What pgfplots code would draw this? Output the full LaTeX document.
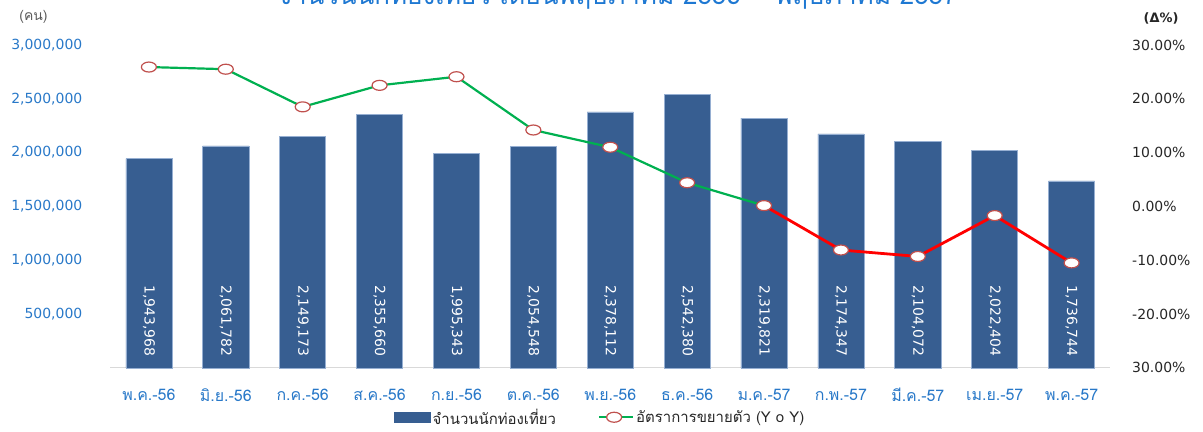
\documentclass[border=0pt]{standalone}
\usepackage{pgfplots}
\pgfplotsset{compat=1.18}
\usepackage{pgfplotstable}
\usepackage{fontspec}
\setmainfont{DejaVu Sans}
\newfontfamily\thaifont[Script=Thai]{Loma}
\usetikzlibrary{calc}
\definecolor{barblue}{RGB}{55,94,145}
\definecolor{baredge}{RGB}{150,175,210}
\definecolor{tickblue}{RGB}{40,120,200}
\definecolor{lgreen}{RGB}{0,176,80}
\definecolor{lred}{RGB}{255,0,0}
\definecolor{mkred}{RGB}{192,80,77}
\definecolor{titleblue}{RGB}{30,120,210}

\pgfplotstableread{
x v
0 1943968
1 2061782
2 2149173
3 2355660
4 1995343
5 2054548
6 2378112
7 2542380
8 2319821
9 2174347
10 2104072
11 2022404
12 1736744
}\bars

\pgfplotstableread{
x g
0 25.9
1 25.5
2 18.5
3 22.5
4 24.1
5 14.2
6 11.0
7 4.4
8 0.15
9 -8.1
10 -9.3
11 -1.7
12 -10.5
}\growth

\pgfplotstableread{
x g
0 25.9
1 25.5
2 18.5
3 22.5
4 24.1
5 14.2
6 11.0
7 4.4
8 0.15
}\growthA

\pgfplotstableread{
x g
8 0.15
9 -8.1
10 -9.3
11 -1.7
12 -10.5
}\growthB

\begin{document}
\begin{tikzpicture}
\begin{axis}[
  name=ax,
  scale only axis,
  width=1000bp, height=323bp,
  xmin=-0.5, xmax=12.5,
  ymin=0, ymax=3000000,
  scaled y ticks=false,
  axis x line*=bottom,
  axis y line*=left,
  x axis line style={draw=black!15, line width=1bp, -},
  y axis line style={draw=none},
  tick style={draw=none},
  major tick length=0pt,
  xtick={0,...,12},
  xticklabels={พ.ค.-56,มิ.ย.-56,ก.ค.-56,ส.ค.-56,ก.ย.-56,ต.ค.-56,พ.ย.-56,ธ.ค.-56,ม.ค.-57,ก.พ.-57,มี.ค.-57,เม.ย.-57,พ.ค.-57},
  xticklabel style={font=\thaifont\fontsize{16}{18}\selectfont, text=tickblue, anchor=center, inner sep=0pt, yshift=-27bp},
  ytick={500000,1000000,1500000,2000000,2500000,3000000},
  yticklabels={{500,000},{1,000,000},{1,500,000},{2,000,000},{2,500,000},{3,000,000}},
  yticklabel style={font=\fontsize{14}{16}\selectfont, text=tickblue, anchor=east, inner sep=0pt, xshift=-28bp},
  clip=false,
]
\addplot[ybar, bar width=0.6, fill=barblue, draw=baredge, line width=0.6bp] table[x=x, y=v] {\bars};
\addplot[draw=none, nodes near coords, point meta=explicit,
  every node near coord/.append style={yshift=8bp, rotate=-90, anchor=east, text=white,
    font=\fontsize{14}{16}\selectfont,
    /pgf/number format/.cd, fixed, precision=0, 1000 sep={,}, assume math mode=true}]
  table[x=x, y expr=0, meta=v] {\bars};
\end{axis}

\begin{axis}[
  scale only axis,
  width=1000bp, height=323bp,
  xmin=-0.5, xmax=12.5,
  ymin=-30, ymax=30,
  axis x line=none,
  axis y line*=right,
  y axis line style={draw=none},
  tick style={draw=none},
  major tick length=0pt,
  ytick={-30,-20,-10,0,10,20,30},
  yticklabels={30.00\%,-20.00\%,-10.00\%,0.00\%,10.00\%,20.00\%,30.00\%},
  yticklabel style={font=\fontsize{14}{16}\selectfont, text=black!85, anchor=west, inner sep=0pt, xshift=22bp},
  clip=false,
  legend columns=2,
  legend style={at={(0.49,-0.153)}, anchor=center, draw=none, fill=none,
    font=\thaifont\fontsize{15}{17}\selectfont, text=black!85,
    /tikz/every even column/.append style={column sep=40bp}},
  legend cell align=left,
]
\addlegendimage{legend image code/.code={\fill[barblue] (0bp,-5bp) rectangle (36bp,5bp);}}
\addlegendentry{จำนวนนักท่องเที่ยว}
\addlegendimage{legend image code/.code={\draw[lgreen, line width=2.2bp] (0bp,0bp) -- (34bp,0bp); \draw[mkred, fill=white, line width=1.2bp] (15bp,0bp) ellipse (7.5bp and 5bp);}}
\addlegendentry{อัตราการขยายตัว (Y o Y)}
\addplot[lgreen, line width=2.2bp, mark=none, forget plot] table[x=x, y=g] {\growthA};
\addplot[lred, line width=2.8bp, mark=none, forget plot] table[x=x, y=g] {\growthB};
\addplot[only marks, mark=*, mark size=5bp, forget plot,
  mark options={xscale=1.5, fill=white, draw=mkred, line width=1.2bp}] table[x=x, y=g] {\growth};
\end{axis}

\node[anchor=center, font=\thaifont\fontsize{14}{16}\selectfont, text=black!65] at ($(ax.north west)+(-77bp,28bp)$) {(คน)};
\node[anchor=center, font=\bfseries\fontsize{13}{15}\selectfont, text=black!85] at ($(ax.north east)+(51bp,27bp)$) {(Δ\%)};
\node[anchor=base, font=\thaifont\fontsize{26}{30}\selectfont, text=titleblue] at ($(ax.north)+(7bp,40bp)$) {จำนวนนักท่องเที่ยว เดือนพฤษภาคม 2556 -- พฤษภาคม 2557};

\pgfresetboundingbox
\path[use as bounding box] ($(ax.south west)+(-110.5bp,-64bp)$) rectangle ($(ax.north east)+(93bp,45bp)$);
\end{tikzpicture}
\end{document}
